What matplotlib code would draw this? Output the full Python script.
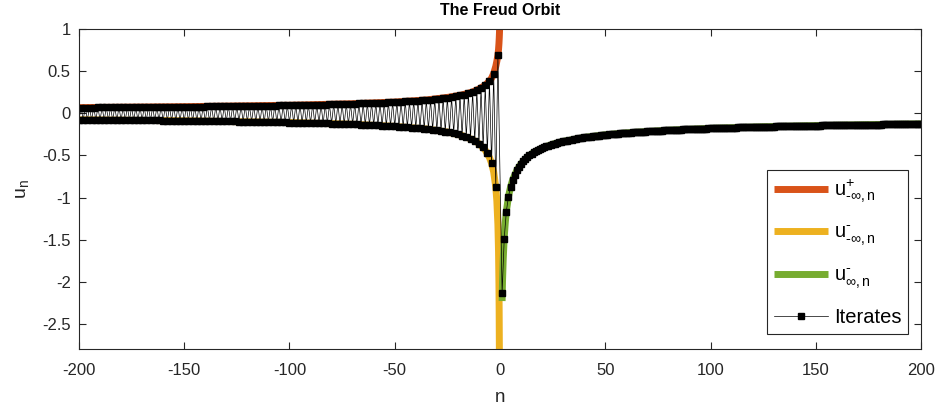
import numpy as np
import matplotlib
matplotlib.use("Agg")
import matplotlib.pyplot as plt

plt.rcParams['font.family'] = ['Liberation Sans', 'DejaVu Sans']
plt.rcParams['mathtext.fontset'] = 'custom'
plt.rcParams['mathtext.rm'] = 'Liberation Sans'
plt.rcParams['mathtext.it'] = 'Liberation Sans'
plt.rcParams['mathtext.sf'] = 'Liberation Sans'
plt.rcParams['axes.unicode_minus'] = False

# ---------------- data ----------------
# continuous curve u^+_{-inf,n}  (n < 0)
plus_n = [-200, -150, -100, -70, -50, -35, -25, -18, -13, -10, -7, -5, -4, -3, -2,
          -1.5, -1, -0.7, -0.5, -0.35, -0.25, -0.15]
plus_u = [0.069, 0.080, 0.097, 0.115, 0.135, 0.160, 0.19, 0.22, 0.255, 0.29, 0.335,
          0.385, 0.42, 0.474, 0.56, 0.62, 0.69, 0.76, 0.83, 0.90, 0.96, 1.05]

# continuous curve u^-_{-inf,n}  (n < 0)
minus_n = [-200, -150, -100, -70, -50, -35, -25, -18, -13, -10, -7, -5, -4, -3, -2,
           -1.5, -1, -0.7, -0.5, -0.4, -0.3, -0.24]
minus_u = [-0.076, -0.088, -0.108, -0.129, -0.154, -0.185, -0.221, -0.263, -0.312,
           -0.359, -0.436, -0.524, -0.593, -0.696, -0.877, -1.04, -1.32, -1.64,
           -2.03, -2.34, -2.82, -3.3]

# continuous curve u^-_{inf,n}  (n > 0)
inf_n = [1, 1.2, 1.5, 2, 2.5, 3, 4, 5, 6, 8, 10, 13, 16, 20, 25, 30, 40, 50, 60, 80,
         100, 125, 150, 175, 200]
inf_u = [-2.23, -1.99, -1.75, -1.475, -1.30, -1.167, -0.991, -0.875, -0.790, -0.675,
         -0.598, -0.519, -0.464, -0.412, -0.366, -0.333, -0.286, -0.255, -0.232,
         -0.200, -0.178, -0.159, -0.145, -0.134, -0.125]

# iterates for n = -1, -2, ..., -200
iter_neg = [
    0.690, -0.877, 0.474, -0.593, 0.385, -0.474, 0.334, -0.405, 0.299, -0.359,
    0.273, -0.326, 0.254, -0.300, 0.238, -0.279, 0.224, -0.263, 0.213, -0.248,
    0.203, -0.236, 0.195, -0.226, 0.188, -0.216, 0.181, -0.208, 0.175, -0.201,
    0.170, -0.194, 0.165, -0.188, 0.160, -0.183, 0.156, -0.177, 0.152, -0.173,
    0.149, -0.168, 0.145, -0.164, 0.142, -0.161, 0.139, -0.157, 0.137, -0.154,
    0.134, -0.151, 0.132, -0.148, 0.129, -0.145, 0.127, -0.143, 0.125, -0.140,
    0.123, -0.138, 0.121, -0.136, 0.119, -0.133, 0.118, -0.131, 0.116, -0.129,
    0.114, -0.128, 0.113, -0.126, 0.111, -0.124, 0.110, -0.122, 0.109, -0.121,
    0.107, -0.119, 0.106, -0.118, 0.105, -0.116, 0.104, -0.115, 0.103, -0.114,
    0.101, -0.112, 0.100, -0.111, 0.099, -0.110, 0.098, -0.109, 0.097, -0.108,
    0.096, -0.107, 0.096, -0.106, 0.095, -0.104, 0.094, -0.104, 0.093, -0.103,
    0.092, -0.102, 0.091, -0.101, 0.091, -0.100, 0.090, -0.099, 0.089, -0.098,
    0.088, -0.097, 0.088, -0.097, 0.087, -0.096, 0.086, -0.095, 0.086, -0.094,
    0.085, -0.093, 0.084, -0.093, 0.084, -0.092, 0.083, -0.091, 0.083, -0.091,
    0.082, -0.090, 0.081, -0.089, 0.081, -0.089, 0.080, -0.088, 0.080, -0.088,
    0.079, -0.087, 0.079, -0.086, 0.078, -0.086, 0.078, -0.085, 0.077, -0.085,
    0.077, -0.084, 0.076, -0.084, 0.076, -0.083, 0.076, -0.083, 0.075, -0.082,
    0.075, -0.082, 0.074, -0.081, 0.074, -0.081, 0.073, -0.080, 0.073, -0.080,
    0.073, -0.079, 0.072, -0.079, 0.072, -0.078, 0.071, -0.078, 0.071, -0.078,
    0.071, -0.077, 0.070, -0.077, 0.070, -0.076, 0.070, -0.076, 0.069, -0.076,
]

# iterates for n = 1, 2, ..., 200
iter_pos = [
    -2.14, -1.49, -1.167, -0.991, -0.875, -0.790, -0.726, -0.675, -0.633, -0.598,
    -0.568, -0.542, -0.519, -0.499, -0.481, -0.464, -0.450, -0.436, -0.424, -0.412,
    -0.402, -0.392, -0.383, -0.374, -0.366, -0.359, -0.352, -0.345, -0.339, -0.333,
    -0.327, -0.322, -0.317, -0.312, -0.307, -0.303, -0.298, -0.294, -0.290, -0.286,
    -0.283, -0.279, -0.276, -0.273, -0.269, -0.266, -0.263, -0.260, -0.258, -0.255,
    -0.252, -0.250, -0.247, -0.245, -0.243, -0.240, -0.238, -0.236, -0.234, -0.232,
    -0.230, -0.228, -0.226, -0.224, -0.223, -0.221, -0.219, -0.217, -0.216, -0.214,
    -0.213, -0.211, -0.210, -0.208, -0.207, -0.205, -0.204, -0.203, -0.201, -0.200,
    -0.199, -0.197, -0.196, -0.195, -0.194, -0.193, -0.191, -0.190, -0.189, -0.188,
    -0.187, -0.186, -0.185, -0.184, -0.183, -0.182, -0.181, -0.180, -0.179, -0.178,
    -0.177, -0.176, -0.176, -0.175, -0.174, -0.173, -0.172, -0.171, -0.171, -0.170,
    -0.169, -0.168, -0.167, -0.167, -0.166, -0.165, -0.164, -0.164, -0.163, -0.162,
    -0.162, -0.161, -0.160, -0.160, -0.159, -0.158, -0.158, -0.157, -0.156, -0.156,
    -0.155, -0.155, -0.154, -0.153, -0.153, -0.152, -0.152, -0.151, -0.151, -0.150,
    -0.149, -0.149, -0.148, -0.148, -0.147, -0.147, -0.146, -0.146, -0.145, -0.145,
    -0.144, -0.144, -0.143, -0.143, -0.142, -0.142, -0.141, -0.141, -0.141, -0.140,
    -0.140, -0.139, -0.139, -0.138, -0.138, -0.137, -0.137, -0.137, -0.136, -0.136,
    -0.135, -0.135, -0.135, -0.134, -0.134, -0.133, -0.133, -0.133, -0.132, -0.132,
    -0.132, -0.131, -0.131, -0.130, -0.130, -0.130, -0.129, -0.129, -0.129, -0.128,
    -0.128, -0.128, -0.127, -0.127, -0.127, -0.126, -0.126, -0.126, -0.125, -0.125,
]

x_ticks = [-200, -150, -100, -50, 0, 50, 100, 150, 200]
y_ticks = [-2.5, -2, -1.5, -1, -0.5, 0, 0.5, 1]
y_tick_labels = ['-2.5', '-2', '-1.5', '-1', '-0.5', '0', '0.5', '1']
legend_labels = [r'$\mathregular{u^{+}_{\text{-}\infty,n}}$',
                 r'$\mathregular{u^{\text{-}}_{\text{-}\infty,n}}$',
                 r'$\mathregular{u^{\text{-}}_{\infty,n}}$',
                 'Iterates']

# ---------------- plot ----------------
ORANGE = '#D95319'
YELLOW = '#EDB120'
GREEN = '#77AC30'
AXC = '#262626'

fig = plt.figure(figsize=(9.38, 4.09), dpi=100)
ax = fig.add_axes([0.0842, 0.1467, 0.8977, 0.7817])

ax.plot(plus_n, plus_u, color=ORANGE, lw=5, solid_capstyle='butt', label=legend_labels[0])
ax.plot(minus_n, minus_u, color=YELLOW, lw=5, solid_capstyle='butt', label=legend_labels[1])
ax.plot(inf_n, inf_u, color=GREEN, lw=5, solid_capstyle='butt', label=legend_labels[2])

neg_n = -np.arange(1, len(iter_neg) + 1)
pos_n = np.arange(1, len(iter_pos) + 1)
it_n = np.concatenate([neg_n[::-1], pos_n])
it_u = np.concatenate([np.array(iter_neg)[::-1], np.array(iter_pos)])
ax.plot(it_n, it_u, color='black', lw=0.5, marker='s', markersize=4.5,
        markerfacecolor='black', markeredgecolor='black', label=legend_labels[3])

ax.set_xlim(-200, 200)
ax.set_ylim(-2.8, 1)
ax.set_xticks(x_ticks)
ax.set_xticklabels([str(t) for t in x_ticks])
ax.set_yticks(y_ticks)
ax.set_yticklabels(y_tick_labels)

for s in ax.spines.values():
    s.set_color(AXC)
    s.set_linewidth(0.8)
ax.tick_params(direction='in', length=5, width=0.8, colors=AXC, labelsize=12,
               top=True, right=True, labelcolor=AXC)
ax.tick_params(axis='x', pad=10)
ax.tick_params(axis='y', pad=6)

ax.set_title('The Freud Orbit', fontsize=11.5, fontweight='bold', pad=10.5)
ax.set_xlabel('n', fontsize=13.5, color=AXC, labelpad=8)
ax.set_ylabel(r'$\mathregular{u_n}$', fontsize=14, color=AXC, labelpad=8)

leg = ax.legend(loc='lower right', bbox_to_anchor=(0.985, 0.047), borderaxespad=0,
                fontsize=13, handlelength=3.0, labelspacing=1.0, handletextpad=0.3,
                fancybox=False, framealpha=1, edgecolor=AXC, borderpad=0.4)
for t in leg.get_texts():
    t.set_fontsize(14.5)
leg.get_frame().set_linewidth(0.8)

fig.savefig('out.png', dpi=100)
